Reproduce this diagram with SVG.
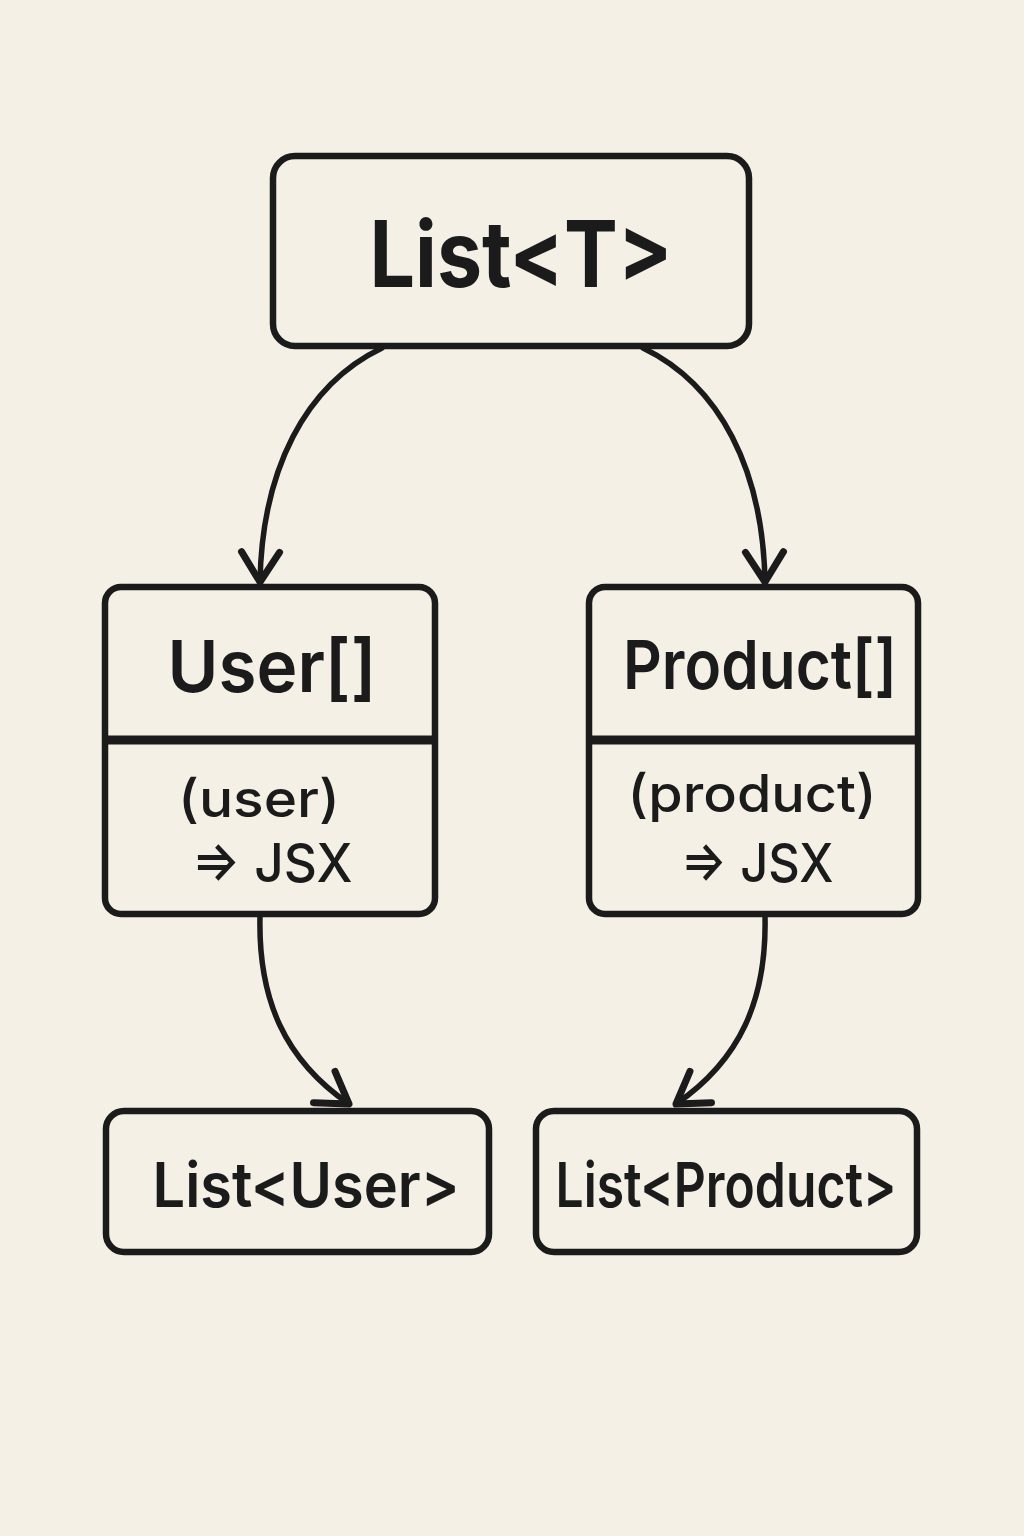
<svg xmlns="http://www.w3.org/2000/svg" width="1024" height="1536" viewBox="0 0 1024 1536">
<style>
.box{fill:#f4f0e6;stroke:#1b1b1b;stroke-width:6.5}
.div{stroke:#1b1b1b;stroke-width:9}
.conn{fill:none;stroke:#1b1b1b;stroke-width:5.5;stroke-linecap:round}
.t{font-family:Inter,"Liberation Sans",Arial,sans-serif;fill:#1b1b1b;text-anchor:middle}
.h{font-weight:700}
.b{font-weight:600}
.m{font-weight:500}
</style>
<defs>
<marker id="arr" markerUnits="userSpaceOnUse" markerWidth="60" markerHeight="60" viewBox="-40 -30 50 60" refX="0" refY="0" orient="auto">
<path d="M -30 -19 L 0 0 L -30 19" fill="none" stroke="#1b1b1b" stroke-width="7" stroke-linecap="round" stroke-linejoin="round"/>
</marker>
</defs>
<rect width="1024" height="1536" fill="#f4f0e6"/>
<g id="connectors">
<path class="conn" d="M 382 348 C 305 385 262 470 260 582" marker-end="url(#arr)"/>
<path class="conn" d="M 643 348 C 720 385 763 470 765 582" marker-end="url(#arr)"/>
<path class="conn" d="M 260 916 C 258 1000 285 1060 349 1104" marker-end="url(#arr)"/>
<path class="conn" d="M 765 916 C 767 1000 740 1060 676 1104" marker-end="url(#arr)"/>
</g>
<g id="node-list-t">
<rect class="box" x="273" y="156" width="476" height="190" rx="22"/>
<text class="t h" x="521" y="287" font-size="92" textLength="303" lengthAdjust="spacingAndGlyphs">List&lt;T&gt;</text>
</g>
<g id="node-user">
<rect class="box" x="105" y="587" width="330" height="327" rx="16"/>
<line class="div" x1="105" y1="740" x2="435" y2="740"/>
<text class="t b" x="272" y="692" font-size="72" textLength="209" lengthAdjust="spacingAndGlyphs">User[]</text>
<text class="t m" x="259" y="817" font-size="52" textLength="162" lengthAdjust="spacingAndGlyphs">(user)</text>
<text class="t m" x="272" y="882" font-size="54" textLength="161" lengthAdjust="spacingAndGlyphs">⇒ JSX</text>
</g>
<g id="node-product">
<rect class="box" x="589" y="587" width="329" height="327" rx="16"/>
<line class="div" x1="589" y1="740" x2="918" y2="740"/>
<text class="t b" x="760" y="689" font-size="68" textLength="274" lengthAdjust="spacingAndGlyphs">Product[]</text>
<text class="t m" x="752" y="812" font-size="52" textLength="249" lengthAdjust="spacingAndGlyphs">(product)</text>
<text class="t m" x="757" y="882" font-size="54" textLength="153" lengthAdjust="spacingAndGlyphs">⇒ JSX</text>
</g>
<g id="node-list-user">
<rect class="box" x="106" y="1111" width="383" height="141" rx="18"/>
<text class="t b" x="306" y="1207" font-size="62" textLength="307" lengthAdjust="spacingAndGlyphs">List&lt;User&gt;</text>
</g>
<g id="node-list-product">
<rect class="box" x="536" y="1111" width="381" height="141" rx="18"/>
<text class="t b" x="726" y="1207" font-size="62" textLength="341" lengthAdjust="spacingAndGlyphs">List&lt;Product&gt;</text>
</g>
</svg>
